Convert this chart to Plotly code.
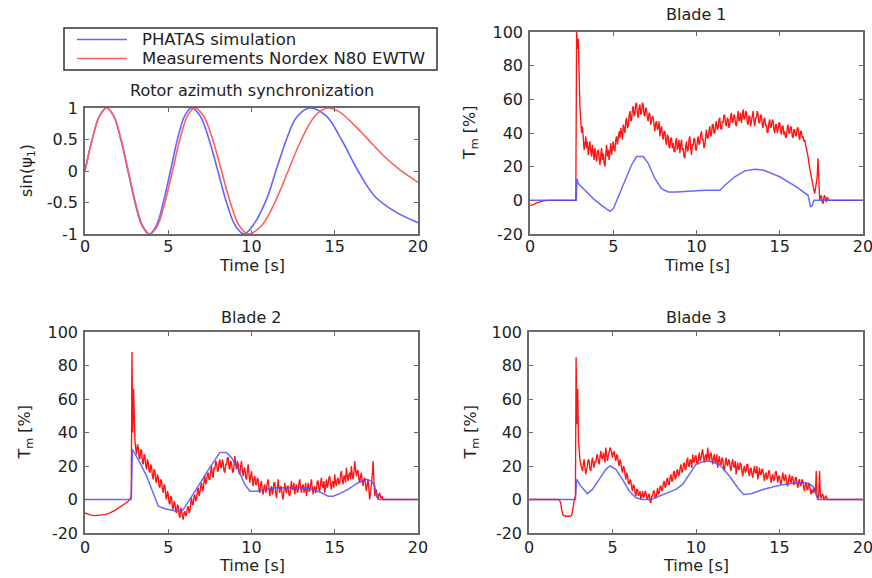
import plotly.graph_objects as go

W, H = 872, 578

# ------------------------------------------------------------------ data
# Rotor azimuth synchronization: sin(psi_1)
sin_sim_t = [0, 0.43, 0.87, 1.3, 1.73, 2.15, 2.58, 3.0, 3.43, 3.85, 4.28, 4.7, 5.13, 5.55, 5.98, 6.4,
             6.93, 7.45, 7.98, 8.5, 9.03, 9.55, 10.2, 10.9, 11.5, 12.1, 12.7, 13.5, 14.5, 15.4,
             16.4, 17.4, 18.6, 20.0]
sin_sim_v = [0, 0.5, 0.87, 1, 0.87, 0.5, 0, -0.5, -0.87, -1, -0.87, -0.5, 0, 0.5, 0.87, 1,
             0.87, 0.5, 0, -0.5, -0.87, -1, -0.82, -0.45, 0.03, 0.5, 0.85, 1, 0.87, 0.5,
             0.0, -0.4, -0.64, -0.82]
sin_meas_t = [0, 0.43, 0.87, 1.3, 1.73, 2.17, 2.6, 3.03, 3.47, 3.9, 4.35, 4.8, 5.25, 5.7, 6.15, 6.6,
              7.13, 7.67, 8.2, 8.73, 9.27, 9.8, 10.6, 11.4, 12.2, 13.0, 13.8, 14.55, 15.2, 15.9,
              16.9, 17.9, 18.9, 20.0]
sin_meas_v = [0, 0.5, 0.87, 1, 0.87, 0.5, 0, -0.5, -0.87, -1, -0.87, -0.5, 0, 0.5, 0.87, 1,
              0.87, 0.5, 0, -0.5, -0.87, -1, -0.87, -0.5, 0, 0.5, 0.87, 1, 0.95, 0.8,
              0.53, 0.25, 0.02, -0.18]

# Blade 1
b1_sim_t = [0, 2.78, 2.82, 2.9, 3.3, 3.8, 4.3, 4.8, 5.0, 5.3, 5.7, 6.1, 6.4, 6.8, 7.1, 7.5, 7.9, 8.3,
            8.8, 9.5, 10.5, 11.4, 11.7, 12.3, 12.9, 13.5, 14.0, 15.0, 16.0, 16.7, 16.85, 16.95, 17.05, 20]
b1_sim_v = [0, 0, 13, 10, 6, 1, -3, -6.5, -5, 2, 12, 21, 26, 26, 22, 13, 7, 5,
            5, 5.5, 6, 6, 9, 14, 17.5, 18.5, 18, 14, 8, 3, -4, -3, 0, 0]
b1_meas_pre_t = [0, 0.2, 0.4, 0.6, 0.8, 1.0, 2.75, 2.8, 2.85, 2.9, 2.95]
b1_meas_pre_v = [-3, -2.5, -1.5, -0.8, -0.3, 0, 0, 100, 90, 96, 68]
b1_meas_noisy = [  # 0.05 s samples starting at 3.0 s, one row per second
    55, 47, 40, 44, 36, 30, 33, 38, 31, 35, 27, 32, 35, 29, 26, 33, 28, 24, 31, 27,
    23, 29, 30, 25, 21, 27, 31, 24, 28, 22, 20, 27, 33, 26, 30, 24, 29, 34, 27, 31,
    35, 30, 29, 36, 38, 33, 36, 41, 37, 43, 40, 36, 45, 42, 40, 47, 49, 43, 44, 50,
    53, 47, 48, 54, 56, 50, 51, 57, 58, 52, 49, 55, 57, 51, 52, 58, 57, 51, 50, 55,
    54, 49, 47, 52, 51, 45, 47, 50, 49, 43, 41, 46, 47, 42, 43, 47, 38, 42, 44, 39,
    36, 41, 41, 35, 33, 39, 38, 32, 31, 37, 37, 31, 34, 29, 29, 35, 37, 30, 32, 36,
    28, 33, 36, 30, 31, 26, 25, 32, 35, 29, 30, 36, 38, 31, 27, 33, 33, 37, 36, 30,
    30, 35, 38, 33, 34, 39, 41, 36, 36, 31, 33, 38, 42, 37, 37, 41, 44, 38, 39, 45,
    45, 40, 40, 45, 47, 42, 43, 48, 49, 43, 42, 47, 46, 51, 50, 45, 44, 49, 48, 43,
    45, 50, 52, 46, 47, 51, 50, 45, 44, 49, 53, 47, 48, 52, 46, 50, 54, 48, 49, 53,
    52, 46, 45, 50, 50, 44, 47, 52, 53, 47, 44, 49, 49, 53, 51, 46, 46, 51, 50, 45,
    43, 48, 49, 44, 45, 40, 41, 46, 48, 43, 44, 48, 47, 42, 40, 45, 45, 40, 42, 46,
    46, 41, 39, 44, 44, 39, 41, 37, 38, 43, 45, 40, 40, 44, 43, 38, 37, 42, 42, 38,
    39, 43, 43, 38, 36, 41, 41, 37, 38, 35, 36, 33, 31, 28, 26, 22, 19, 16, 13, 10,
    8, 6, 4, 7, 10, 14, 25, 10, 0, 2, 3, -1, -2, 2, 3, 0, -1, 2, 1, 0]

# Blade 2
b2_sim_t = [0, 2.78, 2.85, 3.0, 3.3, 3.7, 4.1, 4.4, 4.8, 5.5, 5.9, 6.3, 6.8, 7.3, 7.8, 8.1, 8.5, 8.8,
            9.2, 9.6, 9.9, 10.4, 10.8, 11.5, 12.5, 13.5, 14.2, 14.6, 14.9, 15.3, 15.8, 16.4, 16.9,
            17.2, 17.4, 17.55, 17.7, 20]
b2_sim_v = [0, 0, 30, 27, 22, 14, 3, -4, -5.5, -7, -6, 0, 8, 16, 24, 28, 28, 25,
            18, 9, 5, 5, 6, 7, 7, 6.5, 4, 2, 2, 3.5, 6, 10, 12,
            11, 8, 1, 0, 0]
b2_meas_pre_t = [0, 0.3, 0.6, 0.9, 1.2, 1.5, 1.8, 2.1, 2.4, 2.6, 2.75, 2.78, 2.82, 2.87, 2.92, 2.96]
b2_meas_pre_v = [-8, -9.2, -9.6, -9.5, -9, -8, -6.5, -4.5, -2.5, -1, 1, 4, 88, 40, 66, 38]
b2_meas_noisy = [  # 0.05 s samples starting at 3.0 s, one row per second
    35, 30, 27, 33, 31, 25, 24, 30, 29, 22, 21, 27, 26, 20, 18, 24, 22, 17, 16, 21,
    19, 14, 12, 18, 17, 11, 10, 15, 13, 8, 7, 12, 11, 6, 4, 9, 8, 2, 0, 5,
    3, -2, -3, 2, 1, -5, -6, -1, -2, -7, -8, -3, -4, -9, -11, -5, -6, -10, -12, -8,
    -7, -10, -9, -5, -4, -8, -7, -2, 1, -3, -3, 2, 3, -1, 0, 5, 7, 2, 4, 8,
    10, 5, 6, 11, 14, 9, 11, 15, 16, 12, 12, 17, 20, 14, 13, 19, 18, 23, 22, 17,
    17, 22, 24, 19, 19, 24, 22, 17, 16, 21, 21, 25, 25, 19, 18, 23, 22, 17, 16, 20,
    26, 21, 18, 23, 21, 16, 15, 20, 23, 17, 14, 18, 19, 13, 12, 17, 21, 15, 10, 14,
    17, 12, 8, 13, 14, 9, 9, 13, 12, 6, 4, 9, 11, 5, 3, 8, 9, 4, 6, 10,
    12, 7, 2, 6, 8, 3, 5, 10, 10, 4, 1, 6, 12, 7, 4, 8, 7, 2, 0, 5,
    10, 6, 4, 8, 8, 3, 2, 7, 11, 6, 6, 10, 3, 7, 9, 4, 5, 10, 12, 7,
    4, 8, 9, 4, 6, 10, 2, 6, 10, 5, 5, 9, 12, 7, 3, 7, 8, 4, 6, 11,
    11, 6, 5, 10, 13, 8, 7, 11, 4, 8, 12, 7, 9, 13, 14, 9, 6, 10, 11, 7,
    15, 10, 8, 12, 13, 9, 10, 15, 17, 12, 9, 14, 14, 10, 19, 14, 11, 15, 16, 12,
    20, 15, 12, 16, 23, 18, 14, 17, 17, 12, 10, 14, 16, 11, 8, 12, 13, 9, 5, 9,
    12, 6, 0, 4, 8, 14, 23, 10, 2, 4, 6, 2, 0, 3, 4, 1, 1, 2, 0, 0]

# Blade 3
b3_sim_t = [0, 2.78, 2.85, 3.1, 3.5, 3.8, 4.2, 4.6, 4.85, 5.2, 5.6, 6.0, 6.4, 6.8, 7.3, 7.8, 8.3,
            8.8, 9.2, 9.6, 10.0, 10.5, 11.0, 11.5, 12.0, 12.5, 12.85, 13.3, 14.0, 15.0, 16.0, 16.6,
            17.0, 17.3, 20]
b3_sim_v = [0, 0, 12, 8, 3.5, 6, 12, 18, 20, 18, 12, 5, 1, 0, 0, 2, 4,
            6, 9, 15, 21, 23, 22.5, 20, 14, 7, 3, 3.5, 6, 8.5, 10, 10,
            8, 0, 0]
b3_meas_pre_t = [0, 1.8, 1.9, 1.95, 2.05, 2.2, 2.45, 2.55, 2.62, 2.67, 2.72, 2.78, 2.82, 2.87, 2.92, 2.96]
b3_meas_pre_v = [0, 0, -2, -6, -9.5, -10, -10, -9.5, -6, -1, 0, 2, 85, 45, 66, 35]
b3_meas_noisy = [  # 0.05 s samples starting at 3.0 s, one row per second
    28, 24, 21, 18, 17, 21, 24, 19, 15, 18, 20, 24, 23, 18, 17, 22, 25, 21, 19, 23,
    22, 26, 27, 23, 21, 25, 29, 25, 24, 28, 26, 22, 31, 27, 23, 26, 28, 31, 30, 26,
    25, 28, 29, 25, 23, 27, 26, 22, 20, 24, 22, 18, 16, 20, 19, 15, 12, 16, 14, 10,
    9, 12, 11, 7, 5, 9, 8, 4, 2, 6, 6, 2, 3, 5, 0, 3, 5, 1, 2, 5,
    4, 1, 0, 3, 3, -1, -2, 2, 2, 5, 5, 1, 1, 4, 7, 3, 4, 8, 8, 5,
    6, 10, 11, 7, 8, 12, 13, 9, 9, 13, 15, 11, 11, 16, 17, 12, 13, 17, 18, 14,
    15, 19, 21, 16, 17, 21, 22, 18, 18, 23, 25, 20, 20, 24, 23, 19, 27, 23, 22, 26,
    26, 22, 21, 25, 28, 23, 24, 28, 30, 25, 22, 26, 27, 23, 31, 26, 23, 27, 28, 24,
    21, 25, 27, 22, 23, 27, 19, 23, 26, 21, 21, 25, 24, 19, 17, 22, 25, 21, 20, 24,
    23, 19, 17, 22, 24, 20, 19, 23, 15, 19, 22, 18, 18, 22, 21, 17, 14, 18, 20, 16,
    17, 21, 21, 16, 14, 18, 19, 15, 13, 17, 20, 16, 16, 20, 12, 15, 19, 15, 15, 18,
    18, 14, 11, 15, 16, 12, 13, 17, 17, 13, 10, 14, 15, 11, 12, 16, 17, 13, 10, 14,
    14, 10, 9, 13, 16, 12, 11, 15, 13, 9, 8, 12, 15, 11, 10, 14, 13, 9, 9, 13,
    13, 9, 7, 11, 12, 8, 9, 12, 11, 7, 5, 9, 10, 6, 6, 10, 9, 5, 3, 6,
    4, 6, 7, 4, 17, 2, 0, 3, 17, 1, 1, 3, 3, 0, 0, 2, 2, 0, 0, 0]

meas_tail_t = [18.0, 20.0]
meas_tail_v = [0, 0]
noisy_start, noisy_step = 3.0, 0.05

x_ticks = [0, 5, 10, 15, 20]
sin_y_ticks = [-1, -0.5, 0, 0.5, 1]
sin_y_labels = ["-1", "-0.5", "0", "0.5", "1"]
tm_y_ticks = [-20, 0, 20, 40, 60, 80, 100]
tm_y_labels = ["-20", "0", "20", "40", "60", "80", "100"]

legend_names = ["PHATAS simulation", "Measurements Nordex N80 EWTW"]
panel_titles = ["Rotor azimuth synchronization", "Blade 1", "Blade 2", "Blade 3"]

# ------------------------------------------------------------------ styles
BLUE = "rgba(80,80,255,0.85)"
BLUE_SIN = "rgb(100,100,255)"
RED = "rgb(255,20,20)"
RED_LIGHT = "rgb(255,95,95)"
FONT = "DejaVu Sans"
TXT = "#222222"
AX = "#6a6a6a"


def meas_series(pre_t, pre_v, noisy):
    t = list(pre_t) + [round(noisy_start + noisy_step * i, 3) for i in range(len(noisy))] + meas_tail_t
    v = list(pre_v) + list(noisy) + meas_tail_v
    return t, v


fig = go.Figure()

# panel 1
fig.add_trace(go.Scatter(x=sin_sim_t, y=sin_sim_v, mode="lines", name=legend_names[0],
                         line=dict(color=BLUE_SIN, width=1.6, shape="spline", smoothing=1),
                         xaxis="x", yaxis="y"))
fig.add_trace(go.Scatter(x=sin_meas_t, y=sin_meas_v, mode="lines", name=legend_names[1],
                         line=dict(color=RED_LIGHT, width=1.6, shape="spline", smoothing=1),
                         xaxis="x", yaxis="y"))

blades = [
    (b1_sim_t, b1_sim_v, b1_meas_pre_t, b1_meas_pre_v, b1_meas_noisy, "x2", "y2"),
    (b2_sim_t, b2_sim_v, b2_meas_pre_t, b2_meas_pre_v, b2_meas_noisy, "x3", "y3"),
    (b3_sim_t, b3_sim_v, b3_meas_pre_t, b3_meas_pre_v, b3_meas_noisy, "x4", "y4"),
]
for st, sv, pt, pv, nz, xa, ya in blades:
    mt, mv = meas_series(pt, pv, nz)
    fig.add_trace(go.Scatter(x=mt, y=mv, mode="lines", name=legend_names[1],
                             line=dict(color=RED, width=1.35), xaxis=xa, yaxis=ya))
    fig.add_trace(go.Scatter(x=st, y=sv, mode="lines", name=legend_names[0],
                             line=dict(color=BLUE, width=1.5), xaxis=xa, yaxis=ya))

# ------------------------------------------------------------------ layout
def xd(a, b):
    return [a / W, b / W]


def yd(top, bottom):
    return [1 - bottom / H, 1 - top / H]


boxes = {  # left, right, top, bottom in px
    1: (85, 418, 108, 234),
    2: (530, 863, 32, 234),
    3: (85, 418, 332, 533),
    4: (529, 863, 332, 533),
}

axis_common = dict(showline=True, linecolor=AX, linewidth=1.5, mirror="ticks", ticks="inside",
                   ticklen=4, tickwidth=1, tickcolor=AX, showgrid=False, zeroline=False,
                   automargin=False, ticklabeloverflow="allow",
                   tickfont=dict(family=FONT, size=16, color=TXT), fixedrange=True)

layout = dict(width=W, height=H, margin=dict(l=0, r=0, t=0, b=0, pad=0, autoexpand=False),
              paper_bgcolor="white", plot_bgcolor="white", showlegend=False)
for i, (l, r, t, b) in boxes.items():
    sx = "" if i == 1 else str(i)
    layout["xaxis" + sx] = dict(axis_common, domain=xd(l, r), range=[0, 20], anchor="y" + sx,
                                tickvals=x_ticks, ticktext=[str(v) for v in x_ticks],
                                ticklabelstandoff=-3 if i <= 2 else -1)
    if i == 1:
        layout["yaxis" + sx] = dict(axis_common, domain=yd(t, b), range=[-1, 1], anchor="x" + sx,
                                    tickvals=sin_y_ticks, ticktext=sin_y_labels, ticklabelstandoff=2)
    else:
        layout["yaxis" + sx] = dict(axis_common, domain=yd(t, b), range=[-20, 100], anchor="x" + sx,
                                    tickvals=tm_y_ticks, ticktext=tm_y_labels, ticklabelstandoff=2)
fig.update_layout(**layout)

ann = []


def text(s, px, py, size=16, angle=0, xanchor="center"):
    ann.append(dict(text=s, x=px / W, y=1 - py / H, xref="paper", yref="paper",
                    xanchor=xanchor, yanchor="middle", showarrow=False, textangle=angle,
                    font=dict(family=FONT, size=size, color=TXT)))


title_y = {1: 91, 2: 15, 3: 317, 4: 317}
xlab_y = {1: 266, 2: 266, 3: 565, 4: 565}
ylab_x = {1: 27, 2: 471, 3: 25, 4: 471}
for i, (l, r, t, b) in boxes.items():
    cx = (l + r) / 2
    text(panel_titles[i - 1], cx, title_y[i])
    text("Time [s]", cx, xlab_y[i])
    ylab = "sin(ψ<sub>1</sub>)" if i == 1 else "T<sub>m</sub> [%]"
    text(ylab, ylab_x[i], (t + b) / 2, angle=-90)

# legend box (drawn in paper pixels)
shapes = [dict(type="rect", xref="paper", yref="paper", x0=64 / W, x1=437 / W,
               y0=1 - 70 / H, y1=1 - 28 / H, line=dict(color="#333", width=1.5),
               fillcolor="white", layer="above")]
for k, (col, yy) in enumerate([(BLUE_SIN, 39.5), (RED_LIGHT, 58.5)]):
    shapes.append(dict(type="line", xref="paper", yref="paper", x0=77 / W, x1=127 / W,
                       y0=1 - yy / H, y1=1 - yy / H, line=dict(color=col, width=1.6)))
    text(legend_names[k], 140, yy, size=16.5, xanchor="left")

fig.update_layout(annotations=ann, shapes=shapes)

fig.write_html("out.html", config={"displayModeBar": False},
               post_script="document.body.style.margin='0px';")
